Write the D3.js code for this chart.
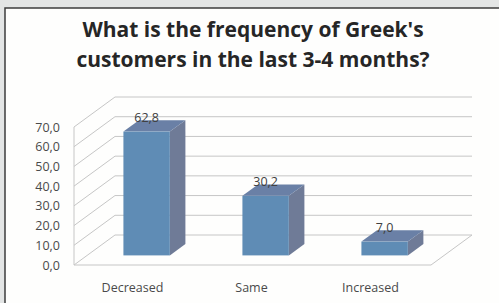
<!DOCTYPE html>
<html>
<head>
<meta charset="utf-8">
<script src="https://cdn.jsdelivr.net/npm/d3@7"></script>
<style>
  html, body { margin: 0; padding: 0; background: #e3e5e5; overflow: hidden; }
  svg { display: block; }
</style>
</head>
<body>
<svg id="chart"></svg>
<script>
const categories = ["Decreased", "Same", "Increased"];
const values = [62.8, 30.2, 7.0];
const yTicks = [0, 10, 20, 30, 40, 50, 60, 70];
const titleLines = ["What is the frequency of Greek's", "customers in the last 3-4 months?"];

const W = 499, H = 303;
const fmt = v => v.toFixed(1).replace(".", ",");

const svg = d3.select("#chart")
  .attr("width", W)
  .attr("height", H);

// white chart panel, runs past the right and bottom edges
svg.append("rect")
  .attr("x", 5).attr("y", 8)
  .attr("width", 600).attr("height", 400)
  .attr("fill", "#fefefd")
  .attr("stroke", "#3c3c3c")
  .attr("stroke-width", 1.5);

svg.append("g")
  .selectAll("text")
  .data(titleLines)
  .join("text")
    .attr("x", 253)
    .attr("y", (d, i) => 37 + i * 30)
    .attr("text-anchor", "middle")
    .attr("font-family", "'Open Sans', sans-serif")
    .attr("font-weight", "bold")
    .attr("font-size", 21)
    .attr("fill", "#262626")
    .text(d => d);

// 3d frame
const front = {left: 74, right: 431};
const depth = {dx: 41, dy: -30};

const y = d3.scaleLinear()
  .domain([0, 70])
  .range([265, 127]);

const x = d3.scaleBand()
  .domain(categories)
  .range([front.left, front.right]);

const grid = svg.append("g")
  .attr("stroke", "#c6c6c6")
  .attr("stroke-width", 1)
  .attr("fill", "none");

// back wall lines
grid.selectAll(".back")
  .data(yTicks)
  .join("line")
    .attr("x1", front.left + depth.dx)
    .attr("x2", front.right + depth.dx)
    .attr("y1", d => y(d) + depth.dy)
    .attr("y2", d => y(d) + depth.dy);

// side wall lines
grid.selectAll(".side")
  .data(yTicks)
  .join("line")
    .attr("x1", front.left)
    .attr("x2", front.left + depth.dx)
    .attr("y1", d => y(d))
    .attr("y2", d => y(d) + depth.dy);

// front vertical edge and floor
grid.append("line")
  .attr("x1", front.left).attr("x2", front.left)
  .attr("y1", y(70)).attr("y2", y(0));
grid.append("line")
  .attr("x1", front.left).attr("x2", front.right)
  .attr("y1", y(0)).attr("y2", y(0));
grid.append("line")
  .attr("x1", front.right).attr("x2", front.right + depth.dx)
  .attr("y1", y(0)).attr("y2", y(0) + depth.dy);

// y axis labels
svg.append("g")
  .selectAll("text")
  .data(yTicks)
  .join("text")
    .attr("x", 60)
    .attr("y", d => y(d) + 4.5)
    .attr("text-anchor", "end")
    .attr("font-family", "'Open Sans', sans-serif")
    .attr("font-size", 12.5)
    .attr("fill", "#4a4a4a")
    .text(fmt);

// x category labels
svg.append("g")
  .selectAll("text")
  .data(categories)
  .join("text")
    .attr("x", d => x(d) + x.bandwidth() / 2 - 1)
    .attr("y", 292)
    .attr("text-anchor", "middle")
    .attr("font-family", "'Open Sans', sans-serif")
    .attr("font-size", 12.5)
    .attr("fill", "#4a4a4a")
    .text(d => d);

// bars
const f0 = 0.32, f1 = 0.70;
const barW = x.bandwidth() * 0.39;
const data = categories.map((c, i) => ({cat: c, value: values[i]}));

const bar = svg.append("g")
  .selectAll("g")
  .data(data)
  .join("g");

const geom = d => {
  const cx = x(d.cat) + x.bandwidth() / 2 + depth.dx * f0;
  const x0 = cx - barW / 2, x1 = cx + barW / 2;
  const yb = y(0) + depth.dy * f0, yt = y(d.value) + depth.dy * f0;
  const ox = depth.dx * (f1 - f0), oy = depth.dy * (f1 - f0);
  return {cx, x0, x1, yb, yt, ox, oy};
};

bar.append("path")
  .attr("fill", "#6f7b97")
  .attr("d", d => {
    const g = geom(d);
    return `M${g.x1},${g.yt}L${g.x1 + g.ox},${g.yt + g.oy}L${g.x1 + g.ox},${g.yb + g.oy}L${g.x1},${g.yb}Z`;
  });

bar.append("path")
  .attr("fill", "#6a80a6")
  .attr("d", d => {
    const g = geom(d);
    return `M${g.x0},${g.yt}L${g.x0 + g.ox},${g.yt + g.oy}L${g.x1 + g.ox},${g.yt + g.oy}L${g.x1},${g.yt}Z`;
  });

bar.append("rect")
  .attr("fill", "#5f8cb5")
  .attr("x", d => geom(d).x0)
  .attr("y", d => geom(d).yt)
  .attr("width", barW)
  .attr("height", d => geom(d).yb - geom(d).yt);

bar.append("text")
  .attr("x", d => geom(d).cx)
  .attr("y", d => geom(d).yt - 10)
  .attr("text-anchor", "middle")
  .attr("font-family", "'Open Sans', sans-serif")
  .attr("font-size", 12.5)
  .attr("fill", "#404040")
  .text(d => fmt(d.value));
</script>
</body>
</html>
